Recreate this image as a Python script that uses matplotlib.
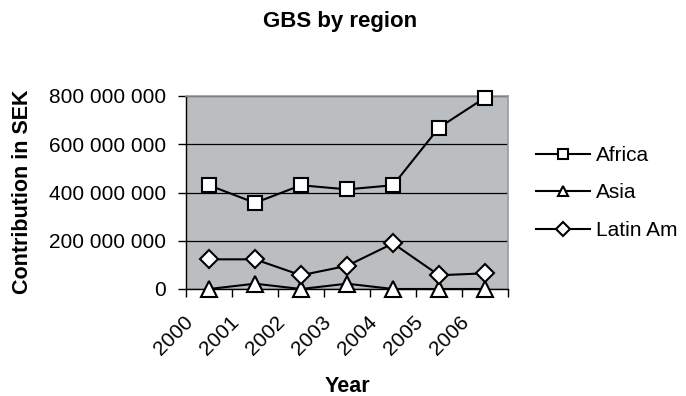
import matplotlib
matplotlib.use("Agg")
import matplotlib.pyplot as plt
import matplotlib.transforms as mtransforms
from matplotlib.ticker import FuncFormatter, FixedLocator, NullFormatter

plt.rcParams['font.family'] = ['Liberation Sans', 'DejaVu Sans']

years = ["2000", "2001", "2002", "2003", "2004", "2005", "2006"]
africa = [430e6, 357e6, 430e6, 413e6, 430e6, 669e6, 793e6]
asia = [0, 22e6, 0, 22e6, 0, 0, 0]
latin_am = [123e6, 123e6, 57e6, 96e6, 189e6, 57e6, 65e6]

series = [
    ("Africa", africa, "s", 10),
    ("Asia", asia, "^", 11),
    ("Latin Am", latin_am, "D", 9),
]

fig = plt.figure(figsize=(6.86, 3.96), dpi=100)
ax = fig.add_axes([186 / 686, 1 - 289 / 396, 322 / 686, 193 / 396])
ax.set_facecolor("#babec0")

x = list(range(len(years)))
for name, vals, mk, ms in series:
    ax.plot(x, vals, color="black", lw=1.5, marker=mk, markersize=ms,
            markerfacecolor="white", markeredgecolor="black",
            markeredgewidth=1.5, label=name, clip_on=False, zorder=3)

ax.set_xlim(-0.5, len(years) - 0.5)
ax.set_ylim(0, 800e6)
ax.set_yticks([0, 200e6, 400e6, 600e6, 800e6])
ax.yaxis.set_major_formatter(FuncFormatter(
    lambda v, p: "0" if v == 0 else f"{int(v):,}".replace(",", " ")))
ax.grid(axis="y", color="black", lw=0.9)
ax.set_axisbelow(True)

# category boundaries carry the tick marks, centres carry the labels
ax.xaxis.set_major_locator(FixedLocator([i - 0.5 for i in range(len(years) + 1)]))
ax.xaxis.set_major_formatter(NullFormatter())
ax.xaxis.set_minor_locator(FixedLocator(x))
ax.set_xticklabels(years, minor=True)
ax.tick_params(axis="x", which="minor", length=0, pad=0)
ax.tick_params(axis="x", which="major", direction="out", length=6, width=1)
ax.tick_params(axis="y", direction="out", length=6, width=1, labelsize=15, pad=8.5)

shift = mtransforms.ScaledTranslation(-19 / 100, -30 / 100, fig.dpi_scale_trans)
for lab in ax.get_xticklabels(minor=True):
    lab.set_rotation(45)
    lab.set_rotation_mode("anchor")
    lab.set_ha("right")
    lab.set_va("center")
    lab.set_fontsize(15)
    lab.set_transform(lab.get_transform() + shift)

for side in ("top", "right"):
    ax.spines[side].set_color("#9a9a9a")
    ax.spines[side].set_linewidth(1.2)
for side in ("left", "bottom"):
    ax.spines[side].set_color("black")
    ax.spines[side].set_linewidth(1.0)

fig.text(340 / 686, 1 - 22 / 396, "GBS by region", ha="center", va="center",
         fontsize=16, fontweight="bold")
fig.text(23 / 686, 1 - 192 / 396, "Contribution in SEK", ha="center", va="center",
         rotation=90, fontsize=15.5, fontweight="bold")
fig.text(347 / 686, 1 - 387 / 396, "Year", ha="center", va="center",
         fontsize=15.5, fontweight="bold")

leg = fig.legend(loc="center left", bbox_to_anchor=(536 / 686, 1 - 193 / 396),
                 frameon=False, fontsize=15, handlelength=2.6,
                 handletextpad=0.28, labelspacing=0.88, borderaxespad=0,
                 borderpad=0)
for h in leg.legend_handles:
    h.set_markersize(7)

fig.savefig("out.png", dpi=100)
